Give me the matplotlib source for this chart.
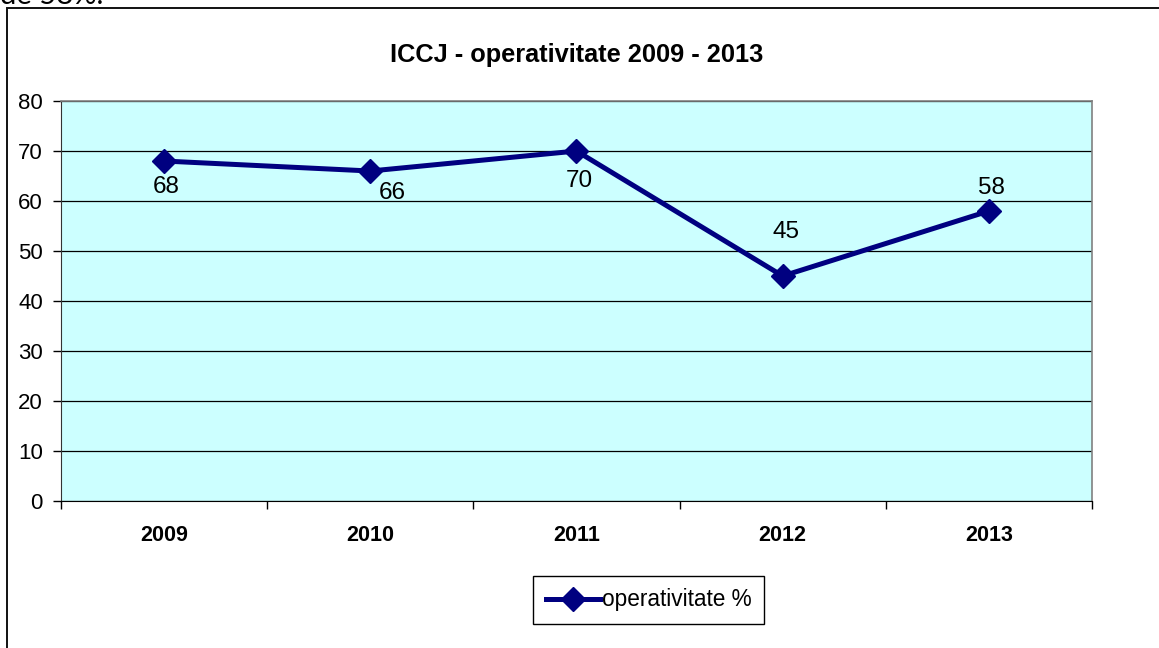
import matplotlib
matplotlib.use('Agg')
import matplotlib.pyplot as plt
from matplotlib.patches import Rectangle

years = ['2009', '2010', '2011', '2012', '2013']
operativitate = [68, 66, 70, 45, 58]
# label offsets (pixels) as placed in the original chart
label_offsets = [(2, -26), (22, -22), (3, -30), (3, 44), (3, 23)]

plt.rcParams['font.family'] = ['Liberation Sans', 'DejaVu Sans']

fig = plt.figure(figsize=(11.59, 6.48), dpi=100)
ax = fig.add_axes([0.0526, 0.2269, 0.8896, 0.6172])
ax.set_facecolor('#CCFFFF')

x = list(range(len(years)))
ax.plot(x, operativitate, color='#000080', lw=3.6, marker='D', ms=12,
        label='operativitate %', zorder=3)

for xi, v, off in zip(x, operativitate, label_offsets):
    ax.annotate(str(v), (xi, v), xytext=off, textcoords='offset pixels',
                ha='center', va='center', fontsize=17.5, zorder=4)

ax.set_xlim(-0.5, 4.5)
ax.set_ylim(0, 80)
ax.set_yticks(range(0, 81, 10))
ax.grid(axis='y', color='black', lw=0.9)
ax.set_axisbelow(True)

ax.set_xticks(x)
ax.set_xticklabels(years, fontweight='bold', fontsize=15.5)
ax.set_xticks([i - 0.5 for i in range(len(years) + 1)], minor=True)
ax.tick_params(axis='x', which='major', length=0, pad=17)
ax.tick_params(axis='x', which='minor', length=6, width=1, direction='out')
ax.tick_params(axis='y', length=6, width=1, direction='out', pad=7, labelsize=16)

for side in ['top', 'right']:
    ax.spines[side].set_color('#808080')
    ax.spines[side].set_linewidth(1.2)
ax.spines['left'].set_color('#333333')
ax.spines['bottom'].set_color('black')

leg = ax.legend(loc='center', bbox_to_anchor=(0.570, -0.2475), fontsize=16.3,
                handlelength=2.4, handletextpad=0.1, borderpad=0.55,
                fancybox=False, framealpha=1, edgecolor='black')
leg.get_frame().set_linewidth(1)

fig.text(0.4974, 1 - 55 / 648, 'ICCJ - operativitate 2009 - 2013',
         ha='center', va='center', fontsize=18.3, fontweight='bold')

# outer chart frame (runs past the right and bottom edges)
fig.patches.append(Rectangle((7 / 1159, -0.05), 1.1, 1 - 8 / 648 + 0.05,
                             transform=fig.transFigure, fill=False,
                             edgecolor='#111111', lw=1.4))

# cut-off text from the document above the chart
fig.text(0.0, 1 - 4 / 648, 'de 58%.', ha='left', va='baseline',
         fontsize=21, family=['Lato', 'DejaVu Sans'])

fig.savefig('out.png', dpi=100)
